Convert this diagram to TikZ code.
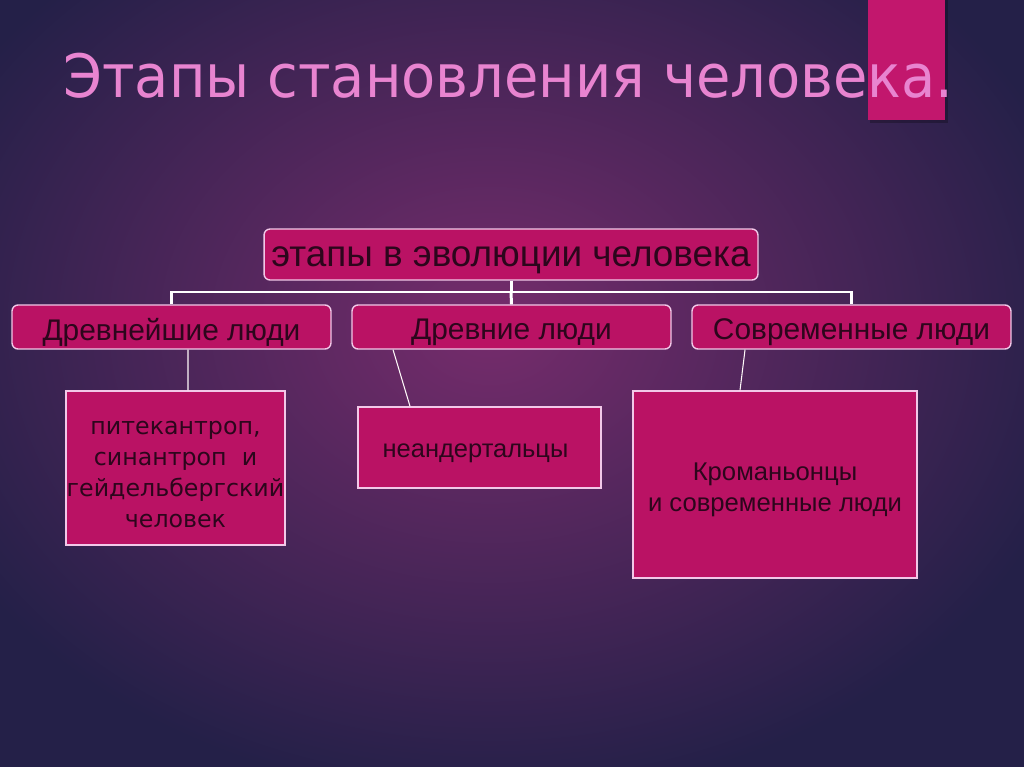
\documentclass[tikz,border=0pt]{standalone}
\usepackage{fontspec}
\setmainfont{Liberation Sans}
\newfontfamily\geo{DejaVu Sans}
\definecolor{bgin}{RGB}{118,44,108}
\definecolor{bgout}{RGB}{36,32,72}
\definecolor{boxfill}{RGB}{186,18,100}
\definecolor{boxline}{RGB}{242,200,232}
\definecolor{ink}{RGB}{44,6,28}
\definecolor{titlepink}{RGB}{232,132,208}
\definecolor{barpink}{RGB}{194,23,109}
\newcommand\dn[2]{\raisebox{-#1}[\height][\depth]{#2}}
\tikzset{
  head/.style={draw=boxline, line width=0.8pt, fill=boxfill, rounded corners=0.12cm, text=ink, inner sep=0pt},
  leaf/.style={draw=boxline, line width=0.8pt, fill=boxfill, text=ink, inner sep=0pt, align=center},
  bus/.style={draw=white, line width=1.7pt},
  link/.style={draw=white!90!pink, line width=0.6pt}
}
\begin{document}
\begin{tikzpicture}[x=0.02cm,y=-0.02cm]
\useasboundingbox (0,0) rectangle (1024,767);
\shade[inner color=bgin, outer color=bgout] (-120,-150) rectangle (1100,800);
\fill[black, opacity=0.25] (870,0) rectangle (948,123);
\fill[barpink] (868,0) rectangle (945,120);
\node[anchor=base west, text=titlepink, inner sep=0pt] (title) at (63,97) {\scalebox{1}[1.07]{\geo\fontsize{31.8}{36}\selectfont Этапы становления человека.}};

\node[head, minimum width=9.88cm, minimum height=1.02cm, font=\fontsize{21}{24}\selectfont] (top) at (511,254.5) {\dn{3pt}{этапы в эволюции человека}};
\node[head, minimum width=6.38cm, minimum height=0.88cm, font=\fontsize{17}{20}\selectfont] (c1) at (171.5,327) {\dn{3pt}{Древнейшие люди}};
\node[head, minimum width=6.38cm, minimum height=0.88cm, font=\fontsize{17}{20}\selectfont] (c2) at (511.5,327) {\dn{3pt}{Древние люди}};
\node[head, minimum width=6.38cm, minimum height=0.88cm, font=\fontsize{17}{20}\selectfont] (c3) at (851.5,327) {\dn{3pt}{Современные люди}};

\coordinate (busc) at (top.south |- 0,292);
\draw[bus] (top.south) -- (busc);
\draw[bus] (c1.north) |- (busc) -| (c3.north);
\draw[bus] (busc) -- (c2.north);

\node[leaf, minimum width=4.38cm, minimum height=3.08cm] (b1) at (175.5,468) {\dn{4pt}{\geo\fontsize{13.5}{17.6}\selectfont\begin{tabular}{@{}c@{}}питекантроп,\\синантроп~ и\\гейдельбергский\\человек\end{tabular}}};
\node[leaf, minimum width=4.86cm, minimum height=1.62cm] (b2) at (479.5,447.5) {\dn{3.5pt}{\hspace*{-0.16cm}\fontsize{14.5}{17}\selectfont неандертальцы}};
\node[leaf, minimum width=5.68cm, minimum height=3.74cm] (b3) at (775,484.5) {\dn{3pt}{\fontsize{14.6}{17.6}\selectfont\begin{tabular}{@{}c@{}}Кроманьонцы\\и современные люди\end{tabular}}};

\draw[link] ([xshift=0.33cm]c1.south) -- ([xshift=0.25cm]b1.north);
\draw[link] ([xshift=-2.37cm]c2.south) -- ([xshift=-1.39cm]b2.north);
\draw[link] ([xshift=-2.13cm]c3.south) -- ([xshift=-0.7cm]b3.north);
\end{tikzpicture}
\end{document}
